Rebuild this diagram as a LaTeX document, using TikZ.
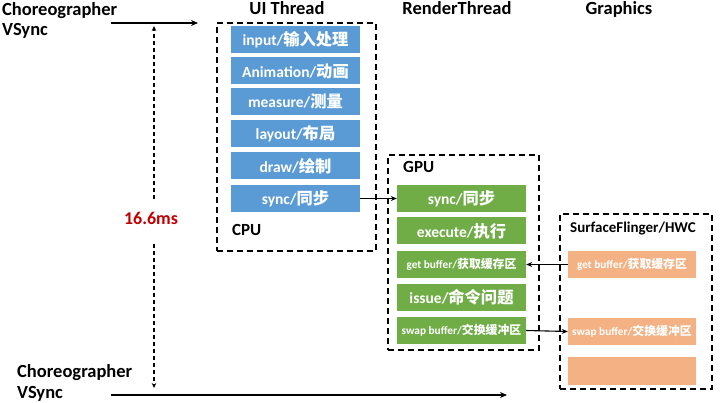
\documentclass[tikz,border=0pt]{standalone}
\usepackage{fontspec}
\setmainfont{Carlito}
\newfontfamily\cjk[Scale=1.05]{Noto Sans CJK SC}
\usetikzlibrary{arrows.meta}
\definecolor{bluebox}{RGB}{91,155,213}
\definecolor{greenbox}{RGB}{112,173,71}
\definecolor{orangebox}{RGB}{244,177,131}
\definecolor{msred}{RGB}{192,0,0}
\begin{document}
\begin{tikzpicture}[x=1pt,y=-1pt,
  title/.style={font=\fontsize{18.5}{21}\selectfont\bfseries, inner sep=0pt},
  label/.style={font=\fontsize{17}{20}\selectfont\bfseries, inner sep=0pt},
  mslabel/.style={font=\fontsize{18}{21}\selectfont\bfseries, inner sep=0pt},
  sflabel/.style={font=\fontsize{15}{18}\selectfont\bfseries, inner sep=0pt},
  boxbase/.style={text=white, minimum height=27pt, inner sep=0pt, font=\fontsize{15.5}{18}\selectfont\bfseries},
  bluetask/.style={boxbase, fill=bluebox, minimum width=129pt},
  greentask/.style={boxbase, fill=greenbox, minimum width=129pt},
  orangetask/.style={boxbase, fill=orangebox, minimum width=128pt},
  smalltxt/.style={font=\fontsize{11.3}{14}\selectfont\bfseries},
  groupbox/.style={draw=black, line width=1.8pt, dash pattern=on 6pt off 4pt, inner sep=0pt, anchor=north west},
  flow/.style={draw=black, line width=1.1pt, -{Stealth[length=6pt,width=5pt]}},
  vsync/.style={draw=black, line width=1.6pt, -{Stealth[length=7pt,width=6pt]}},
  period/.style={draw=black, line width=1.2pt, dash pattern=on 4pt off 3pt, -{Stealth[length=5pt,width=4.5pt]}}
]
\path[use as bounding box, fill=white] (0,0) rectangle (720,403);

% titles
\node[title, anchor=base west] (cht1) at (2,16) {Choreographer};
\node[title, anchor=base west] (cht2) at (2,36) {VSync};
\node[title, anchor=base] (tui) at (287,15) {UI Thread};
\node[title, anchor=base] (trt) at (457,15) {RenderThread};
\node[title, anchor=base] (tgr) at (619,15) {Graphics};
\node[title, anchor=base west] (chb1) at (17,377) {Choreographer};
\node[title, anchor=base west] (chb2) at (17,398) {VSync};

% vsync arrows
\coordinate (ta1) at (111,23);
\coordinate (ta2) at (198,23);
\draw[vsync] (ta1) -- (ta2);
\coordinate (ba1) at (111,395);
\coordinate (ba2) at (507,395);
\draw[vsync] (ba1) -- (ba2);

% 16.6ms period
\node[mslabel, text=msred] (ms) at (151,218) {16.6ms};
\coordinate (vtop) at (154,26);
\coordinate (vbot) at (154,388);
\coordinate (g1) at (154,199);
\coordinate (g2) at (154,244);
\draw[period] (g1) -- (vtop);
\draw[period] (g2) -- (vbot);

% UI thread / CPU
\node[groupbox, minimum width=159pt, minimum height=228pt] (uibox) at (216,22) {};
\node[bluetask] (b1) at (295.5,39.5) {input/{\cjk 输入处理}};
\node[bluetask] (b2) at (295.5,71) {Animation/{\cjk 动画}};
\node[bluetask] (b3) at (295.5,101.5) {measure/{\cjk 测量}};
\node[bluetask] (b4) at (295.5,134) {layout/{\cjk 布局}};
\node[bluetask] (b5) at (295.5,166) {draw/{\cjk 绘制}};
\node[bluetask] (b6) at (295.5,198.5) {sync/{\cjk 同步}};
\node[label, anchor=base west] (cpu) at (232,236) {CPU};

% RenderThread / GPU
\node[groupbox, minimum width=151pt, minimum height=195pt] (gpubox) at (387,154) {};
\node[label, anchor=base west] (gpu) at (403,173) {GPU};
\node[greentask] (gr1) at (461.5,198.5) {sync/{\cjk 同步}};
\node[greentask] (gr2) at (461.5,231) {execute/{\cjk 执行}};
\node[greentask, smalltxt] (gr3) at (461.5,264.5) {get buffer/{\cjk 获取缓存区}};
\node[greentask] (gr4) at (461.5,297.5) {issue/{\cjk 命令问题}};
\node[greentask, smalltxt] (gr5) at (461.5,330.5) {swap buffer/{\cjk 交换缓冲区}};

% Graphics / SurfaceFlinger
\node[groupbox, minimum width=152pt, minimum height=175pt] (sfbox) at (559,213) {};
\node[sflabel, anchor=base] (sf) at (633,233) {SurfaceFlinger/HWC};
\node[orangetask, smalltxt] (o1) at (632,264.5) {get buffer/{\cjk 获取缓存区}};
\node[orangetask, smalltxt] (o2) at (632,331.5) {swap buffer/{\cjk 交换缓冲区}};
\node[orangetask, minimum height=28pt] (o3) at (632,371) {};

% connectors
\draw[flow] (b6.east) -- (gr1.west);
\draw[flow] (o1.west) -- (gr3.east);
\draw[flow] (gr5.east) -- (o2.west);
\end{tikzpicture}
\end{document}
